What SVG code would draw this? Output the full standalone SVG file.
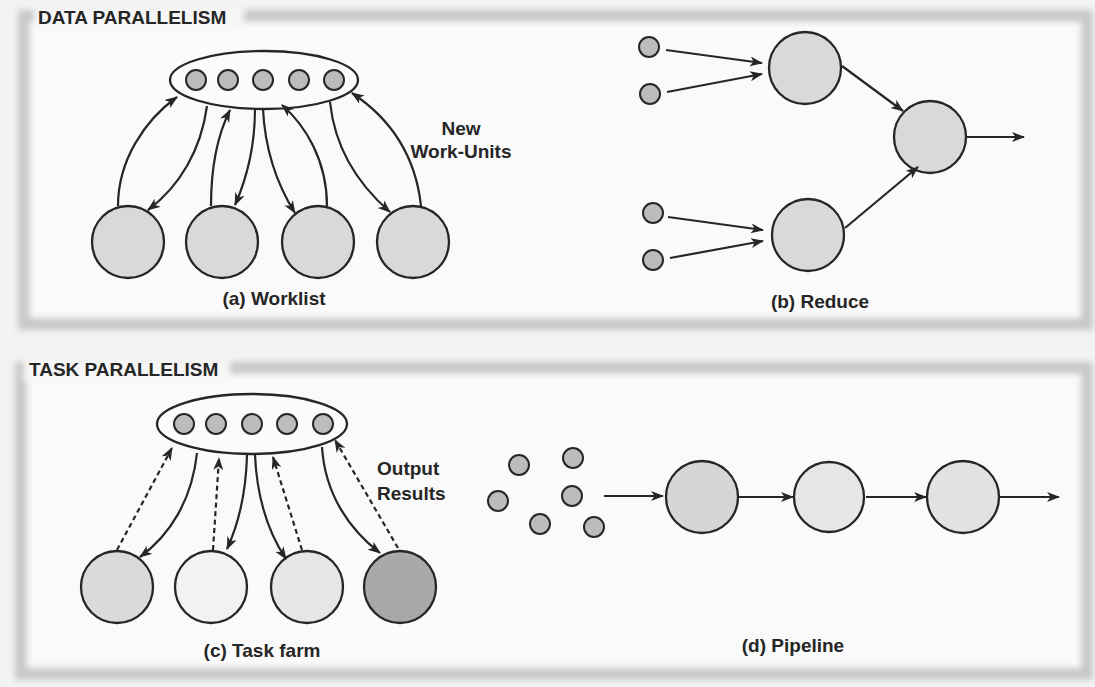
<svg xmlns="http://www.w3.org/2000/svg" width="1095" height="687" viewBox="0 0 1095 687">
<defs>
<filter id="blur" x="-5%" y="-5%" width="110%" height="110%"><feGaussianBlur stdDeviation="3"/></filter>
<marker id="ah" markerUnits="userSpaceOnUse" markerWidth="14" markerHeight="11" refX="12" refY="5" orient="auto">
<path d="M0,0 L13,5 L0,10 L3.5,5 Z" fill="#262626"/>
</marker>
<style>
.lbl{font-family:"Liberation Sans",Arial,sans-serif;font-weight:bold;font-size:19px;fill:#262626}
.ln{fill:none;stroke:#262626;stroke-width:2.2}
.dash{stroke-dasharray:5,3.5}
.arr{marker-end:url(#ah)}
.sm{fill:#bcbcbc;stroke:#262626;stroke-width:2}
.big{stroke:#262626;stroke-width:2.3}
.ell{fill:#fbfbfb;stroke:#262626;stroke-width:2.3}
</style>
</defs>
<rect width="1095" height="687" fill="#f3f3f3"/>
<g id="frames">
<rect x="24" y="16" width="1063" height="308" fill="#fafafa" stroke="#c8c8c8" stroke-width="12" filter="url(#blur)"/>
<rect x="21" y="368" width="1066" height="306" fill="#fafafa" stroke="#c8c8c8" stroke-width="12" filter="url(#blur)"/>
<rect x="34" y="5" width="210" height="25" fill="#f6f6f6" filter="url(#blur)"/>
<rect x="24" y="357" width="206" height="25" fill="#f6f6f6" filter="url(#blur)"/>
</g>
<g id="titles">
<text class="lbl" x="38" y="24">DATA PARALLELISM</text>
<text class="lbl" x="29" y="376">TASK PARALLELISM</text>
</g>
<g id="worklist-queue">
<ellipse class="ell" cx="264" cy="80" rx="94" ry="29"/>
<circle class="sm" cx="196" cy="80" r="10"/>
<circle class="sm" cx="228" cy="80" r="10"/>
<circle class="sm" cx="263" cy="80" r="10"/>
<circle class="sm" cx="299" cy="80" r="10"/>
<circle class="sm" cx="334" cy="80" r="10"/>
</g>
<g id="worklist-workers">
<circle class="big" cx="128" cy="242" r="36" fill="#d9d9d9"/>
<circle class="big" cx="222" cy="242" r="36" fill="#d9d9d9"/>
<circle class="big" cx="318" cy="242" r="36" fill="#d9d9d9"/>
<circle class="big" cx="413" cy="242" r="36" fill="#d9d9d9"/>
</g>
<g id="reduce-nodes">
<circle class="sm" cx="649" cy="47" r="10"/>
<circle class="sm" cx="650" cy="94" r="10"/>
<circle class="sm" cx="653" cy="213" r="10"/>
<circle class="sm" cx="653" cy="260" r="10"/>
<circle class="big" cx="805" cy="68" r="36" fill="#d9d9d9"/>
<circle class="big" cx="808" cy="235" r="36" fill="#d9d9d9"/>
<circle class="big" cx="930" cy="137" r="36" fill="#d9d9d9"/>
</g>
<g id="taskfarm-queue">
<ellipse class="ell" cx="252" cy="424" rx="95" ry="30"/>
<circle class="sm" cx="184" cy="424" r="10"/>
<circle class="sm" cx="216" cy="424" r="10"/>
<circle class="sm" cx="252" cy="424" r="10"/>
<circle class="sm" cx="287" cy="424" r="10"/>
<circle class="sm" cx="323" cy="424" r="10"/>
</g>
<g id="taskfarm-workers">
<circle class="big" cx="117" cy="587" r="36" fill="#dadada"/>
<circle class="big" cx="211" cy="587" r="36" fill="#f2f2f2"/>
<circle class="big" cx="307" cy="587" r="36" fill="#e6e6e6"/>
<circle class="big" cx="400" cy="587" r="36" fill="#a9a9a9"/>
</g>
<g id="pipeline-nodes">
<circle class="sm" cx="519" cy="465" r="10"/>
<circle class="sm" cx="573" cy="458" r="10"/>
<circle class="sm" cx="498" cy="501" r="10"/>
<circle class="sm" cx="572" cy="496" r="10"/>
<circle class="sm" cx="540" cy="524" r="10"/>
<circle class="sm" cx="594" cy="527" r="10"/>
<circle class="big" cx="702" cy="497" r="36" fill="#d6d6d6"/>
<circle class="big" cx="829" cy="497" r="35" fill="#e6e6e6"/>
<circle class="big" cx="963" cy="497" r="36" fill="#e2e2e2"/>
</g>
<g id="connectors">
<path class="ln arr" d="M118,206 C118,160 145,120 177,97"/>
<path class="ln arr" d="M207,106 C201,150 180,186 148,210"/>
<path class="ln arr" d="M211,206 C211,160 220,130 230,110"/>
<path class="ln arr" d="M255,109 C255,150 246,180 235,205"/>
<path class="ln arr" d="M263,109 C265,150 278,186 295,213"/>
<path class="ln arr" d="M327,206 C327,160 305,125 282,105"/>
<path class="ln arr" d="M330,102 C335,150 360,186 390,212"/>
<path class="ln arr" d="M421,206 C415,150 385,115 352,93"/>
<path class="ln arr" d="M666,50 L762,63"/>
<path class="ln arr" d="M667,92 L762,74"/>
<path class="ln arr" d="M668,217 L763,230"/>
<path class="ln arr" d="M670,258 L763,241"/>
<path class="ln arr" d="M842,66 L903,111"/>
<path class="ln arr" d="M845,228 L918,167"/>
<path class="ln arr" d="M966,137 L1024,137"/>
<path class="ln arr" d="M197,453 C192,500 170,535 140,557"/>
<path class="ln arr" d="M247,455 C246,495 238,525 227,549"/>
<path class="ln arr" d="M255,455 C257,500 270,535 286,559"/>
<path class="ln arr" d="M322,447 C325,495 350,530 380,553"/>
<path class="ln dash arr" d="M117,550 L172,448"/>
<path class="ln dash arr" d="M213,550 L219,458"/>
<path class="ln dash arr" d="M302,550 L273,457"/>
<path class="ln dash arr" d="M398,548 L335,440"/>
<path class="ln arr" d="M604,496 L663,496"/>
<path class="ln arr" d="M738,497 L793,497"/>
<path class="ln arr" d="M866,497 L926,497"/>
<path class="ln arr" d="M999,497 L1059,497"/>
</g>
<g id="labels">
<text class="lbl" x="461" y="135" text-anchor="middle">New</text>
<text class="lbl" x="461" y="158" text-anchor="middle">Work-Units</text>
<text class="lbl" x="274" y="305" text-anchor="middle">(a) Worklist</text>
<text class="lbl" x="820" y="308" text-anchor="middle">(b) Reduce</text>
<text class="lbl" x="377" y="475">Output</text>
<text class="lbl" x="377" y="500">Results</text>
<text class="lbl" x="262" y="657" text-anchor="middle">(c) Task farm</text>
<text class="lbl" x="793" y="652" text-anchor="middle">(d) Pipeline</text>
</g>
</svg>
